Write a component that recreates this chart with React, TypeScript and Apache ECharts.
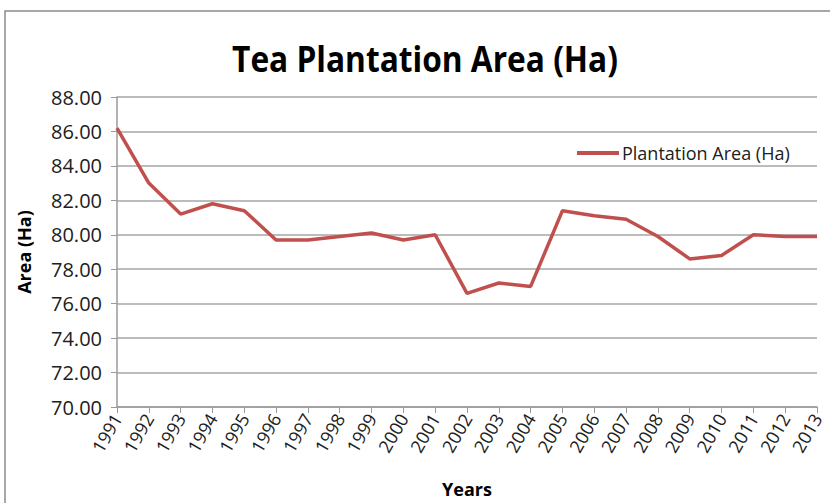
import React, { useEffect, useRef } from "react";
import * as echarts from "echarts";

const years = [
  "1991", "1992", "1993", "1994", "1995", "1996", "1997", "1998", "1999", "2000",
  "2001", "2002", "2003", "2004", "2005", "2006", "2007", "2008", "2009", "2010",
  "2011", "2012", "2013",
];

const plantationArea = [
  86.2, 83.0, 81.2, 81.8, 81.4, 79.7, 79.7, 79.9, 80.1, 79.7,
  80.0, 76.6, 77.2, 77.0, 81.4, 81.1, 80.9, 79.9, 78.6, 78.8,
  80.0, 79.9, 79.9,
];

const FONT = "'Open Sans', sans-serif";

export default function App() {
  const ref = useRef<HTMLDivElement>(null);

  useEffect(() => {
    document.body.style.margin = "0";
    if (!ref.current) return;
    const chart = echarts.init(ref.current, null, { renderer: "svg" });
    chart.setOption({
      animation: false,
      backgroundColor: "#ffffff",
      legend: {
        data: ["Plantation Area (Ha)"],
        left: 572,
        top: 139,
        itemWidth: 42,
        itemHeight: 4,
        itemGap: 4,
        textStyle: { fontFamily: FONT, fontSize: 18, color: "#202020", padding: [0, 0, 0, -2] },
        icon: "rect",
      },
      graphic: [
        {
          type: "rect",
          shape: { x: 5, y: 11, width: 840, height: 510 },
          style: { fill: "none", stroke: "#8c8c8c", lineWidth: 1.5 },
          silent: true,
        },
        {
          // narrowed bold title
          type: "text",
          x: 425,
          y: 58,
          scaleX: 0.88,
          style: {
            text: "Tea Plantation Area (Ha)",
            fontFamily: FONT,
            fontWeight: "bold",
            fontSize: 36,
            fill: "#000",
            align: "center",
            verticalAlign: "middle",
          },
          silent: true,
        },
      ],
      grid: { left: 117, right: 13, top: 97, bottom: 96, outerBoundsMode: "none" },
      xAxis: {
        type: "category",
        data: years,
        boundaryGap: false,
        name: "Years",
        nameLocation: "middle",
        nameGap: 73,
        nameTextStyle: { fontFamily: FONT, fontWeight: "bold", fontSize: 18, color: "#000" },
        axisLine: { lineStyle: { color: "#9a9a9a", width: 1.5 } },
        axisTick: { show: true, length: 6, lineStyle: { color: "#9a9a9a" } },
        axisLabel: {
          rotate: 60,
          interval: 0,
          margin: 8,
          fontFamily: FONT,
          fontSize: 18,
          color: "#202020",
        },
        splitLine: { show: false },
      },
      yAxis: {
        type: "value",
        min: 70,
        max: 88,
        interval: 2,
        name: "Area (Ha)",
        nameLocation: "middle",
        nameGap: 84,
        nameRotate: 90,
        nameTextStyle: { fontFamily: FONT, fontWeight: "bold", fontSize: 18, color: "#000" },
        axisLine: { show: true, lineStyle: { color: "#9a9a9a", width: 1.5 } },
        axisTick: { show: true, length: 6, lineStyle: { color: "#9a9a9a" } },
        axisLabel: {
          formatter: (v: number) => v.toFixed(2),
          margin: 15,
          fontFamily: FONT,
          fontSize: 20,
          color: "#202020",
        },
        splitLine: { lineStyle: { color: "#a6a6a6", width: 1.5 } },
      },
      series: [
        {
          name: "Plantation Area (Ha)",
          type: "line",
          data: plantationArea,
          symbol: "none",
          lineStyle: { color: "#c0504d", width: 3.5 },
          itemStyle: { color: "#c0504d" },
        },
      ],
    });
    return () => chart.dispose();
  }, []);

  return <div ref={ref} style={{ width: 830, height: 503 }} />;
}
